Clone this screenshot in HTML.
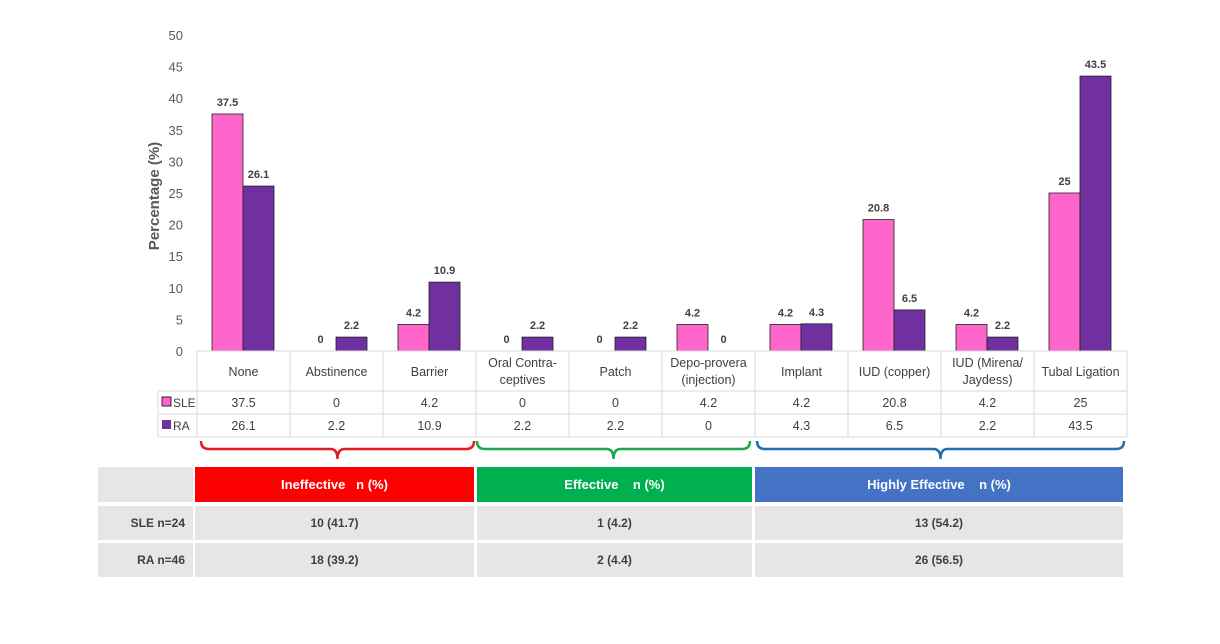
<!DOCTYPE html>
<html><head><meta charset="utf-8">
<style>
body{margin:0;background:#fff;font-family:"Liberation Sans",sans-serif;}
#wrap{position:relative;width:1220px;height:644px;overflow:hidden;}
.bt{position:absolute;background:#e7e6e6;color:#404040;font-weight:bold;font-size:12px;display:flex;align-items:center;justify-content:center;}
.hd{color:#fff;font-size:13px;}
</style></head><body>
<div id="wrap">
<svg id="chart" width="1220" height="644" style="position:absolute;left:0;top:0"></svg>
<div class="bt" style="left:98px;top:467px;width:95px;height:35px"></div>
<div class="bt hd" style="left:195px;top:467px;width:279px;height:35px;background:#ff0000">Ineffective&nbsp;&nbsp;&nbsp;n (%)</div>
<div class="bt hd" style="left:477px;top:467px;width:275px;height:35px;background:#00b050">Effective&nbsp;&nbsp;&nbsp;&nbsp;n (%)</div>
<div class="bt hd" style="left:755px;top:467px;width:368px;height:35px;background:#4472c4">Highly Effective&nbsp;&nbsp;&nbsp;&nbsp;n (%)</div>
<div class="bt" style="left:98px;top:506px;width:95px;height:34px;justify-content:flex-end;padding-right:8px;box-sizing:border-box">SLE n=24</div>
<div class="bt" style="left:195px;top:506px;width:279px;height:34px">10 (41.7)</div>
<div class="bt" style="left:477px;top:506px;width:275px;height:34px">1 (4.2)</div>
<div class="bt" style="left:755px;top:506px;width:368px;height:34px">13 (54.2)</div>
<div class="bt" style="left:98px;top:543px;width:95px;height:34px;justify-content:flex-end;padding-right:8px;box-sizing:border-box">RA n=46</div>
<div class="bt" style="left:195px;top:543px;width:279px;height:34px">18 (39.2)</div>
<div class="bt" style="left:477px;top:543px;width:275px;height:34px">2 (4.4)</div>
<div class="bt" style="left:755px;top:543px;width:368px;height:34px">26 (56.5)</div>
</div>
<script>
const categories=[["None"],["Abstinence"],["Barrier"],["Oral Contra-","ceptives"],["Patch"],["Depo-provera","(injection)"],["Implant"],["IUD (copper)"],["IUD (Mirena/","Jaydess)"],["Tubal Ligation"]];
const sleValues=[37.5,0,4.2,0,0,4.2,4.2,20.8,4.2,25];
const raValues=[26.1,2.2,10.9,2.2,2.2,0,4.3,6.5,2.2,43.5];
const yTicks=[0,5,10,15,20,25,30,35,40,45,50];
const svg=document.getElementById('chart');
const NS='http://www.w3.org/2000/svg';
const x0=197,colW=93,yBase=351,yTop=35,yMax=50;
const y=v=>yBase-(v/yMax)*(yBase-yTop);
const colX=i=>x0+i*colW;
function mk(tag,attrs,txt){const e=document.createElementNS(NS,tag);for(const k in attrs)e.setAttribute(k,attrs[k]);if(txt!==undefined)e.textContent=txt;svg.appendChild(e);return e;}
yTicks.forEach(t=>{const e=mk('text',{x:183,y:y(t)+5,'text-anchor':'end','font-size':13,fill:'#595959'},t);

});
const tt=mk('text',{x:0,y:0,transform:'translate(159,196) rotate(-90)','text-anchor':'middle','font-size':15,'font-weight':'bold',fill:'#595959'},'Percentage (%)');


const series=[[sleValues,'#ff66cc',15],[raValues,'#7030a0',46]];
categories.forEach((c,i)=>{
 series.forEach(([vals,col,off],s)=>{
  const v=vals[i];
  const r=mk('rect',{x:colX(i)+off,y:y(v),width:31,height:yBase-y(v),fill:col,stroke:'#222','stroke-width':v>0?0.8:0});
  
  
  const l=mk('text',{x:colX(i)+off+15.5,y:y(v)-8,'text-anchor':'middle','font-size':11,'font-weight':'bold',fill:'#404040'},v);
  
  
 });
 const cx=colX(i)+colW/2;
 const lines=c;
 lines.forEach((ln,k)=>{const t=mk('text',{x:cx,y:lines.length===1?376:(367+k*17),'text-anchor':'middle','font-size':12.5,fill:'#404040'},ln);
 
 });
 const a=mk('text',{x:cx,y:407,'text-anchor':'middle','font-size':12.5,fill:'#404040'},sleValues[i]);
 
 
 const b=mk('text',{x:cx,y:430,'text-anchor':'middle','font-size':12.5,fill:'#404040'},raValues[i]);
 
 
});
// grid of data table
const g='#d9d9d9';
for(let i=0;i<=categories.length;i++)mk('line',{x1:colX(i),y1:351,x2:colX(i),y2:437,stroke:g});
mk('line',{x1:158,y1:391,x2:1127,y2:391,stroke:g});
mk('line',{x1:158,y1:414,x2:1127,y2:414,stroke:g});
mk('line',{x1:158,y1:437,x2:1127,y2:437,stroke:g});
mk('line',{x1:158,y1:391,x2:158,y2:437,stroke:g});
mk('line',{x1:197,y1:351,x2:1127,y2:351,stroke:g});
const lg1=mk('rect',{x:162,y:397,width:9,height:9,fill:'#ff66cc',stroke:'#000','stroke-width':0.8});


mk('text',{x:173,y:407,'font-size':12,fill:'#404040'},'SLE');
const lg2=mk('rect',{x:162,y:420,width:9,height:9,fill:'#7030a0'});


mk('text',{x:173,y:430,'font-size':12,fill:'#404040'},'RA');
// braces
function brace(x1,x2,col,name){const m=(x1+x2)/2;
 const p=mk('path',{d:`M${x1},441 Q${x1},449 ${x1+8},449 L${m-7},449 Q${m},449 ${m},459 Q${m},449 ${m+7},449 L${x2-8},449 Q${x2},449 ${x2},441`,fill:'none',stroke:col,'stroke-width':2.5});
 
 }
brace(201,474,'#e31b23','ineffective-brace');
brace(477,750,'#1ea64a','effective-brace');
brace(757,1124,'#1f6fb5','highly-effective-brace');
</script>
</body></html>
